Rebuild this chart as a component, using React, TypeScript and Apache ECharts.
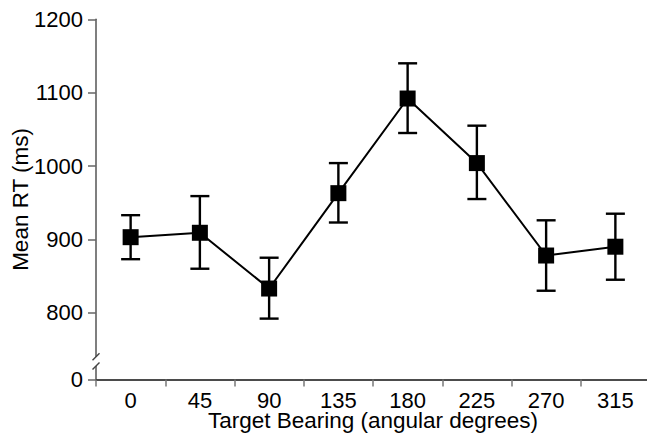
import React, { useEffect, useRef } from "react";
import * as echarts from "echarts";

// Target bearings (angular degrees) and mean response times with error ranges
const bearings = ["0", "45", "90", "135", "180", "225", "270", "315"];
const meanRT = [903, 909, 833, 963, 1092, 1004, 878, 890];
const errLow = [873, 860, 792, 923, 1045, 955, 830, 845];
const errHigh = [933, 959, 875, 1004, 1140, 1055, 926, 935];

// Y ticks above the break; the "0" tick sits at AXIS_FLOOR on the broken axis
const yTickValues = [800, 900, 1000, 1100, 1200];
const AXIS_FLOOR = 709;
const BREAK_FROM = 726;
const BREAK_TO = 744;

const FONT = "'Liberation Sans', Arial, Helvetica, sans-serif";

export default function App() {
  const ref = useRef<HTMLDivElement>(null);

  useEffect(() => {
    if (!ref.current) return;
    const chart = echarts.init(ref.current, undefined, { renderer: "svg" });

    const errData = bearings.map((_, i) => [i, errLow[i], errHigh[i]]);

    chart.setOption({
      animation: false,
      backgroundColor: "#fff",
      grid: {
        left: 96,
        right: -3,
        top: 19.3,
        bottom: 58.5,
        containLabel: false,
        outerBoundsMode: "none",
      },
      xAxis: {
        type: "category",
        data: bearings,
        boundaryGap: true,
        name: "Target Bearing (angular degrees)",
        nameLocation: "middle",
        nameGap: 33,
        nameMoveOverlap: false,
        nameTextStyle: { fontFamily: FONT, fontSize: 22.5, lineHeight: 16, color: "#000" },
        axisLine: { show: true, lineStyle: { color: "#111", width: 1.5 } },
        axisTick: { show: true, interval: 0, length: 7, lineStyle: { color: "#777", width: 1.5 } },
        axisLabel: {
          fontFamily: FONT,
          fontSize: 22,
          lineHeight: 16,
          color: "#000",
          margin: 13,
          interval: 0,
        },
        splitLine: { show: false },
      },
      yAxis: {
        type: "value",
        min: AXIS_FLOOR,
        max: 1200,
        name: "Mean RT (ms)",
        nameLocation: "middle",
        nameGap: 64,
        nameMoveOverlap: false,
        nameTextStyle: { fontFamily: FONT, fontSize: 22.5, color: "#000" },
        axisLine: { show: true, lineStyle: { color: "#555", width: 1.5 } },
        axisTick: {
          show: true,
          length: 8,
          customValues: [AXIS_FLOOR, ...yTickValues],
          lineStyle: { color: "#666", width: 1.5 },
        },
        axisLabel: {
          fontFamily: FONT,
          fontSize: 22,
          color: "#000",
          margin: 13,
          customValues: [AXIS_FLOOR, ...yTickValues],
          formatter: (v: number) => (v === AXIS_FLOOR ? "0" : String(v)),
        },
        splitLine: { show: false },
      },
      series: [
        {
          type: "custom",
          z: 2,
          data: errData,
          encode: { x: 0, y: [1, 2] },
          renderItem: (_params: any, api: any) => {
            const i = api.value(0);
            const lo = api.coord([i, api.value(1)]);
            const hi = api.coord([i, api.value(2)]);
            const half = 9.5;
            const style = { stroke: "#000", lineWidth: 2.4 };
            return {
              type: "group",
              children: [
                { type: "line", shape: { x1: lo[0], y1: lo[1], x2: hi[0], y2: hi[1] }, style },
                { type: "line", shape: { x1: lo[0] - half, y1: lo[1], x2: lo[0] + half, y2: lo[1] }, style },
                { type: "line", shape: { x1: hi[0] - half, y1: hi[1], x2: hi[0] + half, y2: hi[1] }, style },
              ],
            };
          },
        },
        {
          type: "line",
          z: 3,
          data: meanRT,
          symbol: "rect",
          symbolSize: 16,
          itemStyle: { color: "#000" },
          lineStyle: { color: "#000", width: 2 },
        },
      ],
    });

    // Axis break marks on the y axis between the "0" tick and 800
    const c0 = chart.convertToPixel({ gridIndex: 0 }, [0, BREAK_FROM]) as number[];
    const c1 = chart.convertToPixel({ gridIndex: 0 }, [1, BREAK_TO]) as number[];
    const band = c1[0] - c0[0];
    const ax = c0[0] - band / 2;
    const yLow = c0[1];
    const yHigh = c1[1];
    const slash = { stroke: "#444", lineWidth: 1.5 };
    chart.setOption({
      graphic: [
        {
          type: "rect",
          z: 100,
          shape: { x: ax - 3, y: yHigh + 3, width: 6, height: yLow - yHigh - 4 },
          style: { fill: "#fff" },
        },
        {
          type: "line",
          z: 101,
          shape: { x1: ax - 3.5, y1: yHigh + 6.5, x2: ax + 3.5, y2: yHigh - 0.5 },
          style: slash,
        },
        {
          type: "line",
          z: 101,
          shape: { x1: ax - 3.5, y1: yLow + 2.5, x2: ax + 3.5, y2: yLow - 4.5 },
          style: slash,
        },
      ],
    });

    return () => chart.dispose();
  }, []);

  return (
    <div
      ref={ref}
      style={{ position: "fixed", left: 0, top: 0, width: 647, height: 438, background: "#fff" }}
    />
  );
}
